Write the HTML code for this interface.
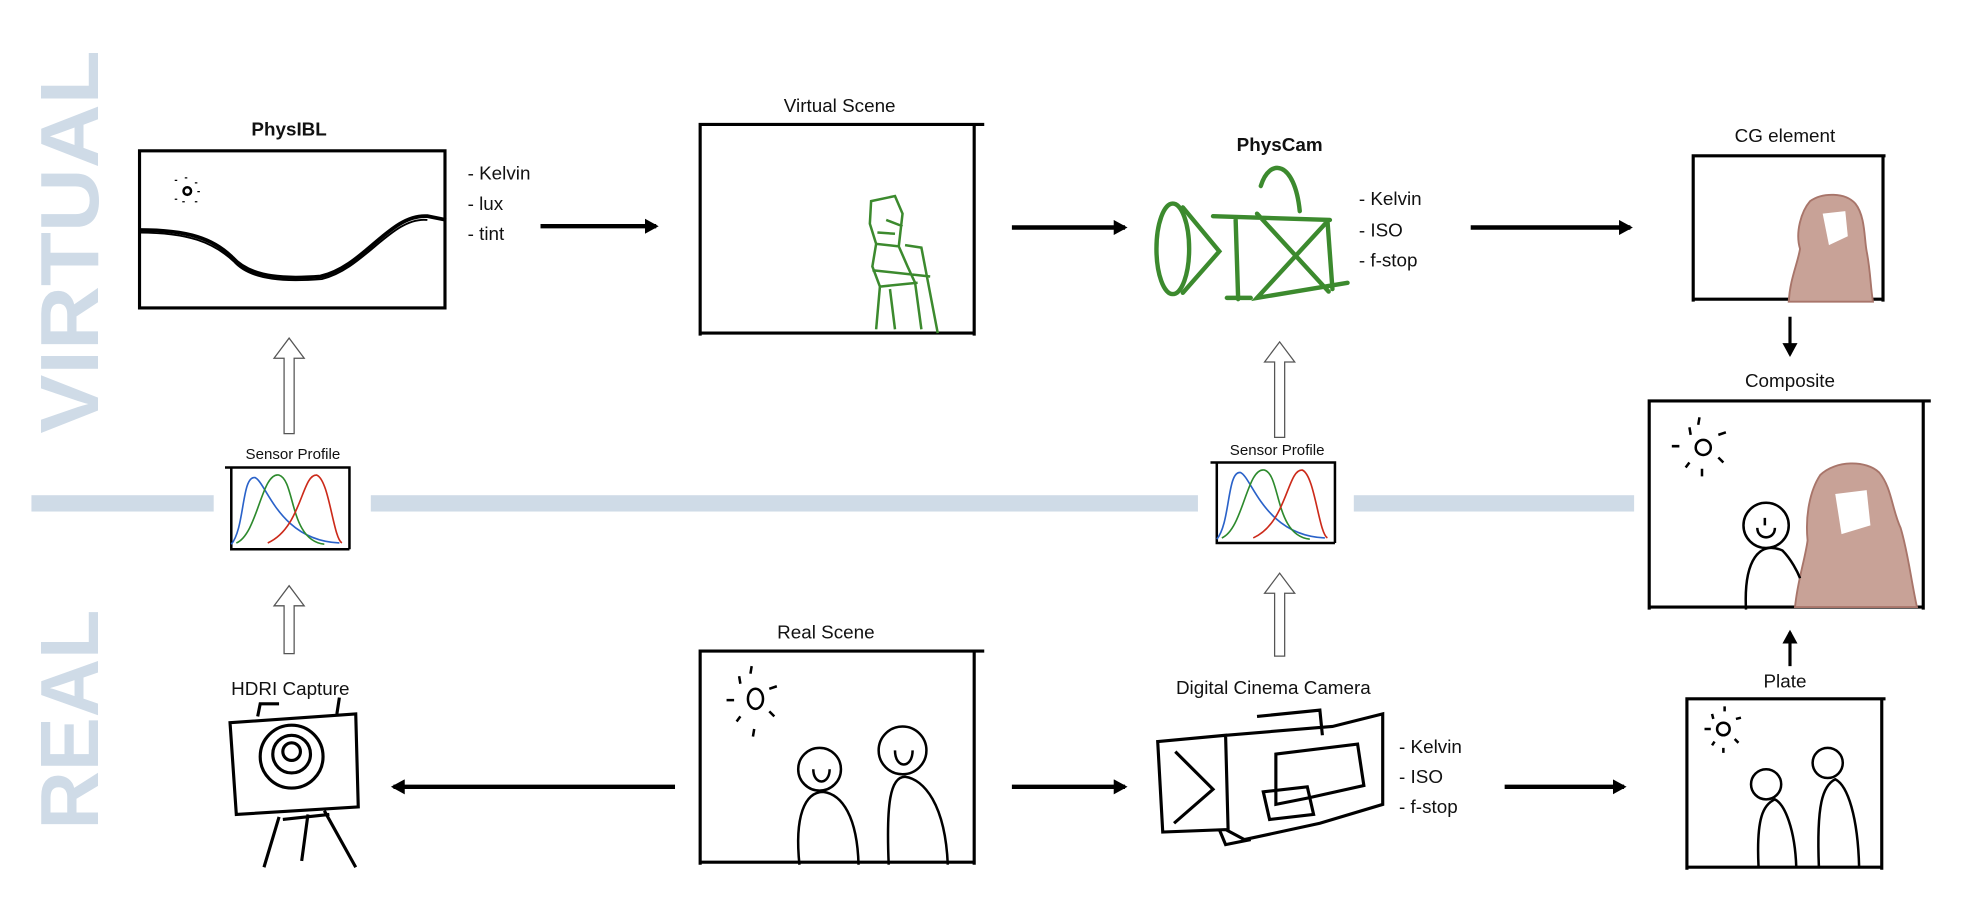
<!DOCTYPE html>
<html><head><meta charset="utf-8"><style>
html,body{margin:0;padding:0;background:#fff;}
svg{display:block;}
text{font-family:"Liberation Sans",sans-serif;}
</style></head><body>
<svg width="1971" height="915" viewBox="0 0 1568 728" preserveAspectRatio="none" xmlns="http://www.w3.org/2000/svg">
<defs>
<marker id="ah" markerWidth="12" markerHeight="12" refX="9" refY="6" orient="auto" markerUnits="userSpaceOnUse"><path d="M0,0 L11,6 L0,12 Z" fill="#000"/></marker>
</defs>
<text transform="translate(78,345) rotate(-90)" font-size="66" font-weight="bold" fill="#cfdbe7" textLength="305" lengthAdjust="spacingAndGlyphs">VIRTUAL</text>
<text transform="translate(78,660) rotate(-90)" font-size="66" font-weight="bold" fill="#cfdbe7" textLength="175" lengthAdjust="spacingAndGlyphs">REAL</text>
<g fill="#cfdbe7">
<rect x="25" y="394" width="145" height="13"/>
<rect x="295" y="394" width="658" height="13"/>
<rect x="1077" y="394" width="223" height="13"/>
</g>
<g fill="none" stroke="#000" stroke-width="2.5">
<rect x="111" y="120" width="243" height="125"/>
<path d="M111,183 C150,183 170,190 185,205 C200,222 230,222 255,220 C290,212 310,170 340,172 L355,175" stroke-width="3"/>
<path d="M111,185 C150,185 170,193 186,208 C200,224 230,224 256,222 C290,214 312,172 340,175" stroke-width="1.5"/>
<path d="M557,267 V99 H783 M775,99 V267 M557,265 H775"/>
<path d="M1347,240 V124 H1500 M1498,124 V240 M1347,238 H1498"/>
<path d="M1312,485 V319 H1536 M1530,319 V485 M1312,483 H1530"/>
<path d="M1342,692 V556 H1500 M1497,556 V692 M1342,690 H1497"/>
<path d="M557,688 V518 H783 M775,518 V688 M557,686 H775"/>
<path d="M179,372 H278 V437 M184,372 V437 H278" stroke-width="2"/>
<path d="M963,368 H1062 V432 M968,368 V432 H1062" stroke-width="2"/>
</g>
<g fill="none" stroke-width="1.3">
<path d="M184,433 C195,420 192,378 203,380 C212,384 222,430 270,432" stroke="#2a62c9"/>
<path d="M188,432 C205,425 208,375 222,378 C235,382 230,430 258,433" stroke="#2d8a2d"/>
<path d="M213,432 C240,420 240,377 252,378 C262,382 265,428 272,432" stroke="#cc2a1a"/>
<path d="M968,429 C979,416 976,374 987,376 C996,380 1006,426 1054,428" stroke="#2a62c9"/>
<path d="M972,428 C989,421 992,371 1006,374 C1019,378 1014,426 1042,429" stroke="#2d8a2d"/>
<path d="M997,428 C1024,416 1024,373 1036,374 C1046,378 1049,424 1056,428" stroke="#cc2a1a"/>
</g>
<g stroke="#000" stroke-width="2" fill="none"><circle cx="149" cy="152" r="3"/><path d="M140,143v1 M156,145v1 M158,152v1 M140,158v1 M148,141v1 M146,160v1 M156,160v1"/></g>
<g fill="none" stroke="#3c8a2e" stroke-width="2">
<path d="M693,160 L712,156 L718,170 L715,196 L697,194 L692,178 Z M697,194 L694,212 L700,228 L697,262 M715,196 L722,212 L728,225 L733,262 M700,228 L730,225 M705,175 L718,180 M698,185 L712,186 M720,195 L733,197 L746,265 M694,215 L740,220 M708,230 L712,262"/>
</g>
<g fill="none" stroke="#3c8a2e" stroke-width="3.5" stroke-linecap="round">
<ellipse cx="933" cy="198" rx="13" ry="36"/>
<path d="M941,165 L970,200 L941,233 M965,172 L1058,175 M983,175 L985,238 M976,237 L995,237 M1003,148 C1010,125 1030,128 1034,168 M1000,170 L1057,232 M1057,175 L1000,237 L1072,225 M1056,175 L1060,230"/>
</g>
<g fill="#c8a297" stroke="#a8756a" stroke-width="1.5">
<path d="M1423,240 C1424,222 1430,210 1432,198 C1428,185 1433,168 1440,160 C1450,153 1468,153 1476,162 C1484,172 1483,190 1485,200 C1488,215 1488,228 1490,240 Z"/>
<path d="M1428,483 C1430,462 1436,445 1438,430 C1436,410 1440,390 1448,378 C1460,366 1485,366 1495,376 C1505,388 1505,405 1512,420 C1518,440 1520,460 1525,483 Z"/>
</g>
<g fill="#fff"><path d="M1450,170 L1468,168 L1470,188 L1455,195 Z"/><path d="M1460,393 L1485,390 L1488,418 L1465,425 Z"/></g>
<g fill="none" stroke="#000" stroke-width="2">
<circle cx="1355" cy="356" r="6"/><path d="M1344,340 l1,6 M1352,332 l-1,6 M1367,346 l6,-2 M1330,355 h6 M1344,368 l-3,4 M1367,364 l4,4 M1354,373 l0,6"/>
<circle cx="1405" cy="418" r="18"/><path d="M1398,420 C1398,430 1412,430 1412,420 M1404,412 v6 M1389,485 C1387,445 1400,430 1418,438 C1425,445 1430,455 1432,460"/>
<ellipse cx="601" cy="556" rx="6" ry="8"/><path d="M588,538 l1,6 M598,530 l-1,6 M612,548 l6,-2 M578,557 h6 M589,570 l-3,4 M612,566 l4,4 M600,580 l-1,6"/>
<circle cx="652" cy="612" r="17"/><path d="M647,612 C647,625 660,625 660,612 M636,688 C632,650 640,630 655,630 C670,632 682,650 683,688"/>
<circle cx="718" cy="597" r="19"/><path d="M712,597 C712,612 726,612 726,597 M707,688 C705,640 708,618 720,618 C735,620 752,640 754,688"/>
<circle cx="1371" cy="580" r="5"/><path d="M1362,568 l1,4 M1372,562 v4 M1381,572 l4,-1 M1356,580 h5 M1364,590 l-2,3 M1380,588 l3,3 M1371,595 v4"/>
<circle cx="1405" cy="624" r="12"/><path d="M1399,690 C1397,650 1403,640 1412,636 C1420,640 1428,660 1429,690"/>
<circle cx="1454" cy="607" r="12"/><path d="M1447,690 C1445,640 1450,625 1460,620 C1470,625 1478,650 1479,690"/>
</g>
<g fill="none" stroke="#000" stroke-width="2.5">
<path d="M183,575 L283,568 L285,642 L188,648 Z M205,570 L207,560 L222,560 M268,568 L270,555"/>
<circle cx="232" cy="602" r="25"/><circle cx="232" cy="600" r="15"/><circle cx="232" cy="598" r="7"/>
<path d="M222,650 L210,690 M245,648 L240,685 M258,645 L283,690 M225,652 L262,648"/>
</g>
<g fill="none" stroke="#000" stroke-width="2.5">
<path d="M921,590 L975,585 L977,660 L925,662 Z M935,598 L965,628 L934,655 M975,585 L1060,578 L1100,568 L1100,640 L1050,655 L990,668 L975,660 M1000,570 L1050,565 L1052,585 M1015,600 L1080,592 L1085,625 L1040,635 L1015,640 Z M1005,630 L1040,626 L1045,648 L1010,652 Z M970,660 L975,672 L995,668"/>
</g>
<g stroke="#000" stroke-width="3.5" marker-end="url(#ah)">
<line x1="430" y1="180" x2="522" y2="180"/>
<line x1="805" y1="181" x2="895" y2="181"/>
<line x1="1170" y1="181" x2="1297" y2="181"/>
<line x1="805" y1="626" x2="895" y2="626"/>
<line x1="1197" y1="626" x2="1292" y2="626"/>
<line x1="537" y1="626" x2="313" y2="626"/>
<line x1="1424" y1="252" x2="1424" y2="282" stroke-width="2.5"/>
<line x1="1424" y1="530" x2="1424" y2="503" stroke-width="2.5"/>
</g>
<g fill="#fff" stroke="#555" stroke-width="1">
<path d="M226,345 V285 H218 L230,269 L242,285 H234 V345 Z"/>
<path d="M226,520 V482 H218 L230,466 L242,482 H234 V520 Z"/>
<path d="M1014,348 V288 H1006 L1018,272 L1030,288 H1022 V348 Z"/>
<path d="M1014,522 V472 H1006 L1018,456 L1030,472 H1022 V522 Z"/>
</g>
<g font-size="15" fill="#111">
<text x="230" y="108" text-anchor="middle" font-weight="bold">PhysIBL</text>
<text x="668" y="89" text-anchor="middle">Virtual Scene</text>
<text x="1018" y="120" text-anchor="middle" font-weight="bold">PhysCam</text>
<text x="1420" y="113" text-anchor="middle">CG element</text>
<text x="1424" y="308" text-anchor="middle">Composite</text>
<text x="1420" y="547" text-anchor="middle">Plate</text>
<text x="231" y="553" text-anchor="middle">HDRI Capture</text>
<text x="657" y="508" text-anchor="middle">Real Scene</text>
<text x="1013" y="552" text-anchor="middle">Digital Cinema Camera</text>
<text x="372" y="143">- Kelvin</text><text x="372" y="167">- lux</text><text x="372" y="191">- tint</text>
<text x="1081" y="163">- Kelvin</text><text x="1081" y="188">- ISO</text><text x="1081" y="212">- f-stop</text>
<text x="1113" y="599">- Kelvin</text><text x="1113" y="623">- ISO</text><text x="1113" y="647">- f-stop</text>
</g>
<g font-size="12" fill="#111">
<text x="233" y="365" text-anchor="middle">Sensor Profile</text>
<text x="1016" y="362" text-anchor="middle">Sensor Profile</text>
</g>
</svg>
</body></html>
